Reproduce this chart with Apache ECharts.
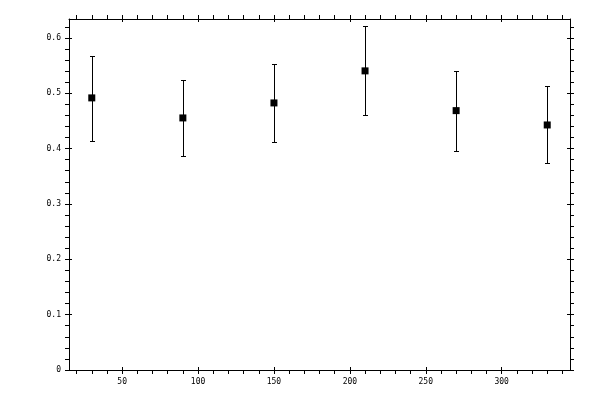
<!DOCTYPE html>
<html>
<head>
<meta charset="utf-8">
<script src="https://cdn.jsdelivr.net/npm/echarts@6/dist/echarts.min.js"></script>
<style>html,body{margin:0;padding:0;background:#fff}#c{width:600px;height:400px}</style>
</head>
<body>
<div id="c"></div>
<script>
// Data
const xValues = [30, 90, 150, 210, 270, 330];
const yValues = [0.4915, 0.4553, 0.4824, 0.5403, 0.4685, 0.4426];
const yLow    = [0.4137, 0.3871, 0.4119, 0.4607, 0.3956, 0.3739];
const yHigh   = [0.5668, 0.5240, 0.5530, 0.6217, 0.5400, 0.5130];

// Axis ticks
const xMajorTicks = [50, 100, 150, 200, 250, 300];
const xMinorTicks = [20, 30, 40, 60, 70, 80, 90, 110, 120, 130, 140, 160, 170, 180, 190, 210, 220, 230, 240, 260, 270, 280, 290, 310, 320, 330, 340];
const yMajorTicks = [0, 0.1, 0.2, 0.3, 0.4, 0.5, 0.6];
const yMinorTicks = [0.02, 0.04, 0.06, 0.08, 0.12, 0.14, 0.16, 0.18, 0.22, 0.24, 0.26, 0.28, 0.32, 0.34, 0.36, 0.38, 0.42, 0.44, 0.46, 0.48, 0.52, 0.54, 0.56, 0.58, 0.62];
const xRange = [15, 345];
const yRange = [0, 0.634];

const black = '#000';
const font = 'DejaVu Sans Mono';

function makeAxis(kind, position, ticks, opts) {
  const ax = {
    type: 'value', position: position,
    min: kind === 'x' ? xRange[0] : yRange[0],
    max: kind === 'x' ? xRange[1] : yRange[1],
    splitLine: { show: false },
    axisLine: { show: !!opts.line, onZero: false, lineStyle: { color: black, width: 1 } },
    axisTick: { show: true, inside: !!opts.inside, length: opts.len, customValues: ticks, lineStyle: { color: black, width: 1 } },
    axisLabel: { show: false }
  };
  if (opts.labels) {
    ax.axisLabel = { show: true, customValues: ticks, color: black, fontFamily: font, fontSize: 8, margin: 8,
      showMinLabel: true, showMaxLabel: true };
  }
  return ax;
}

const xAxes = [
  makeAxis('x', 'bottom', xMajorTicks, { line: true, len: 4, labels: true }),
  makeAxis('x', 'bottom', xMinorTicks, { len: 4 }),
  makeAxis('x', 'bottom', xMajorTicks, { len: 3, inside: true }),
  makeAxis('x', 'top', xMajorTicks, { line: true, len: 4 }),
  makeAxis('x', 'top', xMinorTicks, { len: 4 }),
  makeAxis('x', 'top', xMajorTicks, { len: 3, inside: true })
];
const yAxes = [
  makeAxis('y', 'left', yMajorTicks, { line: true, len: 4, labels: true }),
  makeAxis('y', 'left', yMinorTicks, { len: 4 }),
  makeAxis('y', 'left', yMajorTicks, { len: 3, inside: true }),
  makeAxis('y', 'right', yMajorTicks, { line: true, len: 4 }),
  makeAxis('y', 'right', yMinorTicks, { len: 4 }),
  makeAxis('y', 'right', yMajorTicks, { len: 3, inside: true })
];

const errData = xValues.map((x, i) => [x, yLow[i], yHigh[i]]);
const ptData = xValues.map((x, i) => [x, yValues[i]]);

const chart = echarts.init(document.getElementById('c'), null, { renderer: 'canvas' });
chart.setOption({
  backgroundColor: '#fff',
  animation: false,
  grid: { left: 69, top: 19, width: 501, height: 351, containLabel: false },
  xAxis: xAxes,
  yAxis: yAxes,
  series: [
    {
      type: 'custom', xAxisIndex: 0, yAxisIndex: 0,
      data: errData,
      renderItem: function (params, api) {
        const lo = api.coord([api.value(0), api.value(1)]);
        const hi = api.coord([api.value(0), api.value(2)]);
        const cx = Math.round(lo[0]) + 0.5;
        const yl = Math.round(lo[1]) + 0.5;
        const yh = Math.round(hi[1]) + 0.5;
        const hw = 2.5;
        const st = { stroke: black, lineWidth: 1, fill: null };
        return {
          type: 'group',
          children: [
            { type: 'line', shape: { x1: cx, y1: yh, x2: cx, y2: yl }, style: st },
            { type: 'line', shape: { x1: cx - hw, y1: yh, x2: cx + hw, y2: yh }, style: st },
            { type: 'line', shape: { x1: cx - hw, y1: yl, x2: cx + hw, y2: yl }, style: st }
          ]
        };
      }
    },
    {
      type: 'scatter', xAxisIndex: 0, yAxisIndex: 0,
      data: ptData,
      symbol: 'rect', symbolSize: 7,
      itemStyle: { color: black, opacity: 1 },
      z: 5
    }
  ]
});
</script>
</body>
</html>
